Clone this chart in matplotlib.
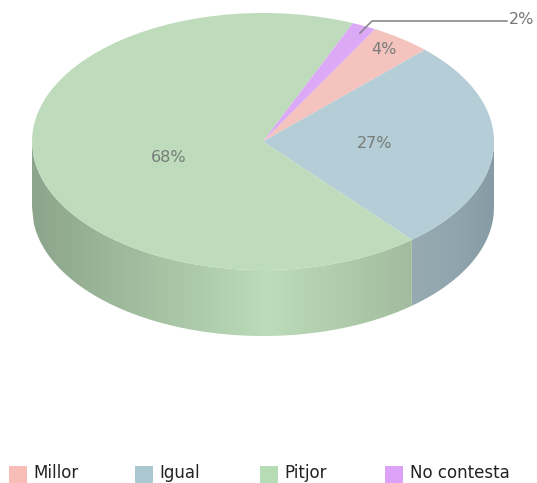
import numpy as np
import matplotlib
matplotlib.use('Agg')
import matplotlib.pyplot as plt
from matplotlib.colors import LinearSegmentedColormap
from matplotlib.patches import Polygon, Rectangle

# shares, labels as printed
categories = ['Millor', 'Igual', 'Pitjor', 'No contesta']
values = [4.3, 26.5, 67.5, 1.7]
labels = ['4%', '27%', '68%', '2%']

colors = ['#f4c3be', '#b4cdd6', '#bedcbc', '#dca9f6']
legend_colors = ['#f8bdb6', '#abc8d1', '#b6dcb6', '#dca2f8']
cx, cy, rx, ry, depth = 263, 141.5, 231, 128.5, 66
start = 61

fig = plt.figure(figsize=(5.37, 4.83), dpi=100)
bg = fig.add_axes([0, 0, 1, 1])
bg.set_xlim(0, 537)
bg.set_ylim(483, 0)
bg.axis('off')

# side wall, shaded by x
split = np.radians(start - (values[0] + values[1]) / sum(values) * 360)  # igual / pitjor edge
split_x = cx + rx * np.cos(split)


def wall(x0, x1, stops, zorder=1):
    xs = np.linspace(x0, x1, 200)
    top = cy + ry * np.sqrt(np.clip(1 - ((xs - cx) / rx) ** 2, 0, 1))
    pts = np.r_[np.c_[xs, top], np.c_[xs[::-1], top[::-1] + depth]]
    cmap = LinearSegmentedColormap.from_list('w', stops)
    im = bg.imshow(np.linspace(0, 1, 256)[None, :], cmap=cmap, aspect='auto',
                   extent=[x0, x1, 345, 130], zorder=zorder)
    im.set_clip_path(Polygon(pts, transform=bg.transData))


wall(cx - rx, split_x, [(0, '#8ca58c'), (0.15, '#98b296'), (0.4, '#aac8a8'),
                        (0.62, '#bcdcba'), (0.8, '#b0cdac'), (1, '#a3bb9f')])
wall(split_x, cx + rx, [(0, '#98abb3'), (0.5, '#90a5ad'), (1, '#869ba5')])
bg.set_xlim(0, 537)
bg.set_ylim(483, 0)

# top of the pie, squashed to an ellipse
ax = fig.add_axes([(cx - rx) / 537, 1 - (cy + ry) / 483, 2 * rx / 537, 2 * ry / 483])
ax.pie(values, colors=colors, startangle=start, counterclock=False, radius=1)
ax.set_aspect('auto')
ax.set_xlim(-1, 1)
ax.set_ylim(-1, 1)

# texts and legend sit on a clear overlay in pixel coordinates
top = fig.add_axes([0, 0, 1, 1])
top.set_xlim(0, 537)
top.set_ylim(483, 0)
top.axis('off')
top.patch.set_alpha(0)

label_pos = [(384, 49), (375, 143), (169, 157)]
for txt, (x, y) in zip(labels[:3], label_pos):
    top.text(x, y, txt, ha='center', va='center', fontsize=11.5, color='#767c77')
top.plot([360, 372, 507], [33, 21, 21], color='#808080', lw=1.1)
top.text(509, 20, labels[3], ha='left', va='center', fontsize=11.5, color='#767676')

swatch_x = [9, 135, 260, 385]
text_x = [33, 159, 284, 410]
for name, c, sx, tx in zip(categories, legend_colors, swatch_x, text_x):
    top.add_patch(Rectangle((sx, 466), 18, 17, fc=c, ec='none'))
    top.text(tx, 478.5, name, ha='left', va='baseline', fontsize=12, color='#222222')

fig.savefig('out.png', dpi=100)
